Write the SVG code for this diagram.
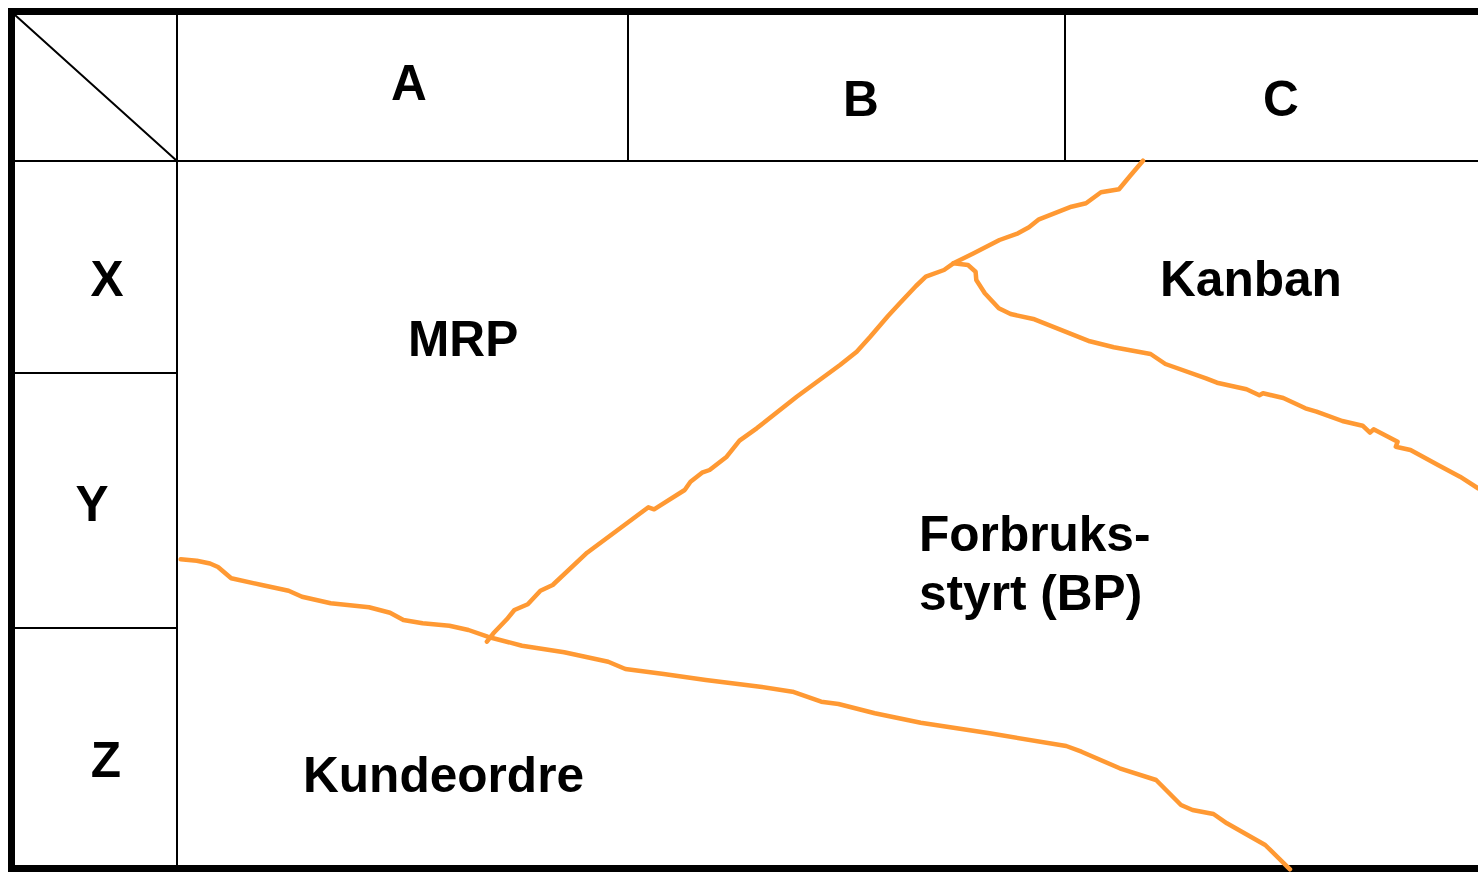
<svg xmlns="http://www.w3.org/2000/svg" width="1478" height="872" viewBox="0 0 1478 872">
<style>
.frame{fill:none;stroke:#000;stroke-width:7}
.grid{fill:none;stroke:#000;stroke-width:2}
.bound{fill:none;stroke:#FF9933;stroke-width:4.5;stroke-linejoin:round;stroke-linecap:round}
.lbl{font-family:"Liberation Sans",Arial,sans-serif;font-weight:bold;font-size:49.6px;fill:#000}
.mid{text-anchor:middle}
</style>
<rect x="0" y="0" width="1478" height="872" fill="#fff"/>
<g id="grid">
<path class="grid" d="M15,161 H1478 M177,15 V865 M628,15 V161 M1065,15 V161 M15,373 H177 M15,628 H177 M15,15 L177,161"/>
<path class="frame" d="M1478,11.5 H11.5 V868.5 H1478"/>
</g>
<g id="headers">
<text class="lbl mid" x="409" y="100">A</text>
<text class="lbl mid" x="861" y="116">B</text>
<text class="lbl mid" x="1281" y="116">C</text>
<text class="lbl mid" x="107" y="296">X</text>
<text class="lbl mid" x="92" y="521">Y</text>
<text class="lbl mid" x="106" y="777">Z</text>
</g>
<g id="connectors">
<path class="bound" d="M180.7,559.3 L196.8,560.7 L210,563.5 L218,567 L231.2,578.3 L261.8,585 L288.6,590.7 L302,596.7 L330.7,603.3 L369,607.3 L390,612.7 L403.4,620 L422.6,623.3 L449.4,625.7 L468.5,630 L487.6,636.7 L522,645.7 L564.2,652.3 L608.2,661.7 L625.4,669 L663.7,674 L705.8,680 L760,686.7 L792.5,691.7 L821.2,701.7 L838.5,704 L874.8,713.3 L920.7,722.7 L989.6,733.3 L1066.2,746 L1081.5,751.7 L1119.7,768.3 L1156.1,780 L1181,805 L1192.5,810 L1213.5,814 L1226.9,823.3 L1265.2,845 L1290,869.3"/>
<path class="bound" d="M486.9,641.7 L493.4,633.3 L506.8,619.3 L514.4,610 L527.8,604.3 L540.4,590.7 L552.7,585 L587.1,552.7 L648.4,507.3 L654.1,509.3 L684.7,490 L690.5,481.7 L702,472.7 L709.6,470 L726.7,456.7 L739.5,440.7 L756.7,428.3 L796.7,396.7 L840,365 L856.7,351.7 L870,337 L888,316 L900,303 L916,286 L925.8,276.7 L944,270 L953.4,263.3 L973.7,253.3 L999.5,240 L1018,233.3 L1029,227.3 L1039,219.3 L1071.4,206.7 L1086,203.3 L1101,192.3 L1119,189.3 L1130,176 L1143,160.7"/>
<path class="bound" d="M953.4,263.3 L968,265 L975.6,271.7 L976.3,280 L984.8,293.3 L998.8,308.3 L1010.6,314 L1034.5,319.3 L1089.8,341.3 L1113.8,347.3 L1150.6,354 L1165.4,364 L1206,378.3 L1217,382.7 L1246.5,389.3 L1259.4,395.3 L1263,393.3 L1283.3,398 L1305.4,408.3 L1316.5,411.7 L1342.3,421 L1362.6,425.7 L1370,432.7 L1373.6,429.3 L1397.6,441.7 L1395.8,446.7 L1410.5,450 L1438,465 L1460,476.7 L1478,488.3"/>
</g>
<g id="node-mrp"><text class="lbl" x="408" y="356">MRP</text></g>
<g id="node-kanban"><text class="lbl" x="1160" y="296">Kanban</text></g>
<g id="node-forbruk"><text class="lbl" x="919" y="551">Forbruks-</text><text class="lbl" x="919" y="610">styrt (BP)</text></g>
<g id="node-kundeordre"><text class="lbl" x="303" y="792">Kundeordre</text></g>
</svg>
